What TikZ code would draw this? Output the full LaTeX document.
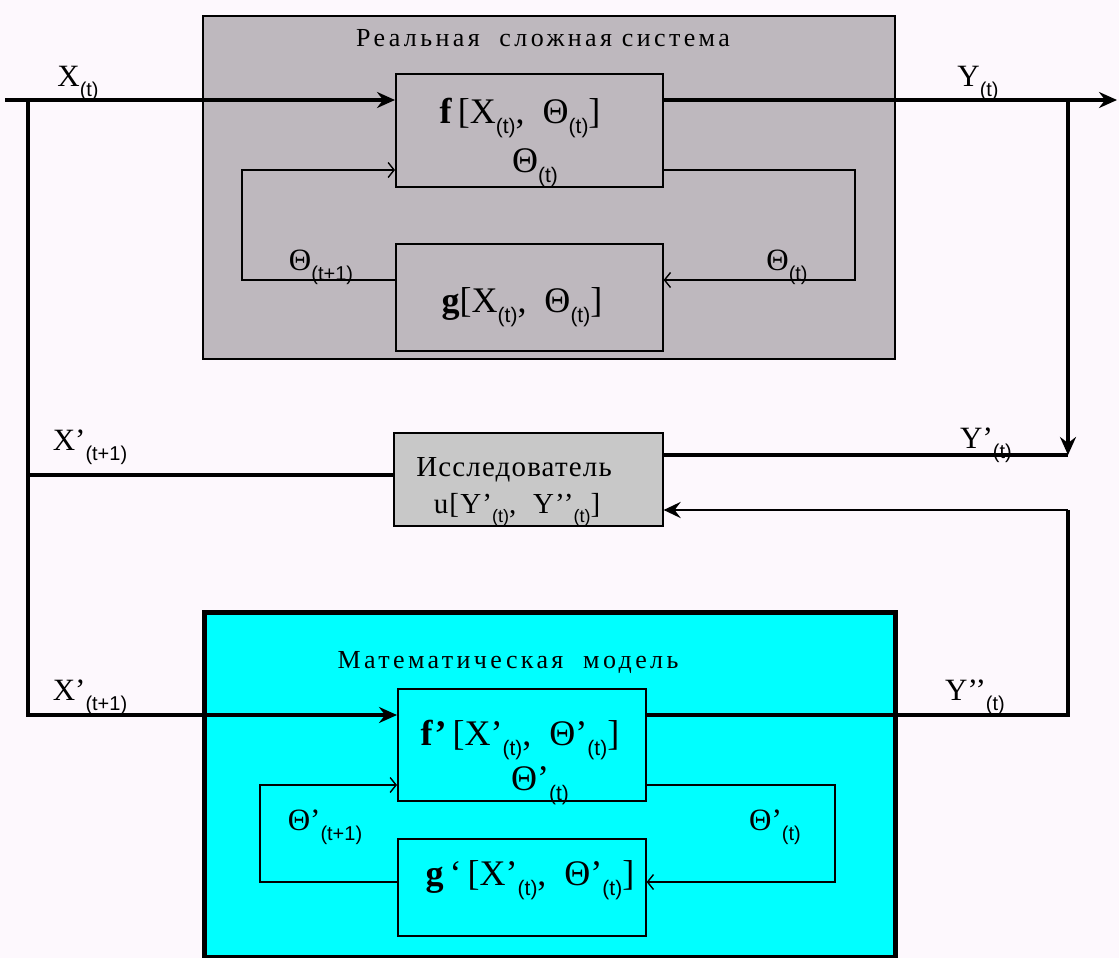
\documentclass[tikz,border=0pt]{standalone}
\usepackage{fontspec}
\setmainfont{Liberation Serif}
\setsansfont{Liberation Sans}
\newfontfamily\spacedfont[LetterSpace=13]{Liberation Serif}
\newfontfamily\resfont[LetterSpace=4]{Liberation Serif}
\usetikzlibrary{arrows.meta}
\definecolor{bgcol}{RGB}{253,248,253}
\definecolor{sysgray}{RGB}{190,184,190}
\definecolor{resgray}{RGB}{200,200,200}
\definecolor{modcyan}{RGB}{0,255,255}
% subscript: optional size (pt), lowered
\newcommand{\subt}[2][20]{\raisebox{-0.5\dimexpr#1pt\relax}{\sffamily\fontsize{#1}{#1}\selectfont #2}}
\tikzset{
  box/.style={draw=black, line width=1.6pt, anchor=north west, inner sep=0pt},
  mainline/.style={line width=3.4pt},
  mainarrow/.style={line width=3.4pt, -{Stealth[length=18pt,width=16pt,inset=6pt]}},
  thinline/.style={line width=3.2pt},
  thinarrow/.style={line width=2.8pt, -{Stealth[length=17pt,width=16pt,inset=6pt]}},
  loopline/.style={line width=1.4pt, -{Straight Barb[length=6pt,width=15pt]}},
  boxtext/.style={inner sep=0pt, anchor=base, font=\fontsize{36}{38}\selectfont},
  lbl/.style={inner sep=0pt, anchor=base, font=\fontsize{31}{33}\selectfont},
  titletext/.style={inner sep=0pt, anchor=base, font=\fontsize{26}{28}\selectfont\spacedfont},
  restext/.style={inner sep=0pt, anchor=base, font=\fontsize{29}{31}\selectfont\resfont}
}
\begin{document}
\begin{tikzpicture}[x=1pt,y=-1pt]
\fill[bgcol] (0,0) rectangle (1119,958);
\useasboundingbox (0,0) rectangle (1119,958);

% real system
\node[box, fill=sysgray, minimum width=692pt, minimum height=343pt] (sys) at (202,15) {};
\node[titletext] (systitle) at (543,47) {Реальная\ \ сложная система};
\node[box, fill=sysgray, minimum width=267pt, minimum height=113pt] (fbox) at (395,73) {};
\node[box, fill=sysgray, minimum width=267pt, minimum height=107pt] (gbox) at (395,243) {};
\node[boxtext] (ftext) at (520,123) {\textbf{f}\,[X\subt[21]{(t)},\ \ Θ\subt[21]{(t)}]};
\node[boxtext] (fth) at (535,172) {Θ\subt[21]{(t)}};
\node[boxtext] (gtext) at (522,312) {\textbf{g}[X\subt[21]{(t)},\ \ Θ\subt[21]{(t)}]};
\node[lbl] (lth1) at (321,270) {Θ\subt[20]{(t+1)}};
\node[lbl] (lth2) at (787,270) {Θ\subt[20]{(t)}};

% researcher
\node[box, fill=resgray, minimum width=269pt, minimum height=93pt] (rbox) at (393,432) {};
\node[restext] (rtext1) at (514,476) {Исследователь};
\node[restext] (rtext2) at (517,513) {u[Y’\subt[18]{(t)},\ \ Y’’\subt[18]{(t)}]};

% model
\node[box, fill=modcyan, line width=5pt, minimum width=691pt, minimum height=345pt] (mod) at (202,610) {};
\node[titletext] (modtitle) at (508,668) {Математическая\ \ модель};
\node[box, fill=modcyan, minimum width=248pt, minimum height=112pt] (fpbox) at (397,688) {};
\node[box, fill=modcyan, minimum width=248pt, minimum height=97pt] (gpbox) at (397,838) {};
\node[boxtext] (fptext) at (520,745) {\textbf{f’}\,[X’\subt[21]{(t)},\ \ Θ’\subt[21]{(t)}]};
\node[boxtext] (fpth) at (540,790) {Θ’\subt[21]{(t)}};
\node[boxtext] (gptext) at (530,885) {\textbf{g}\,‘\,[X’\subt[21]{(t)},\ \ Θ’\subt[21]{(t)}]};
\node[lbl] (lpth1) at (325,830) {Θ’\subt[20]{(t+1)}};
\node[lbl] (lpth2) at (775,830) {Θ’\subt[20]{(t)}};

% outer labels
\node[lbl] (lx) at (78,86) {X\subt[20]{(t)}};
\node[lbl] (ly) at (978,86) {Y\subt[20]{(t)}};
\node[lbl] (lxp1) at (90,450) {X’\subt[20]{(t+1)}};
\node[lbl] (lyp) at (986,448) {Y’\subt[20]{(t)}};
\node[lbl] (lxp2) at (90,700) {X’\subt[20]{(t+1)}};
\node[lbl] (lypp) at (975,700) {Y’’\subt[20]{(t)}};

% coordinates
\coordinate (xin) at (5,100);
\coordinate (xsplit) at (28,100);
\coordinate (xmid) at (28,475);
\coordinate (xbot) at (28,715);
\coordinate (modin) at (202,715);
\coordinate (yout) at (1117,100);
\coordinate (ysplit) at (1068,100);
\coordinate (ydown) at (1068,455);
\coordinate (yup) at (1068,510);
\coordinate (ybot) at (1068,715);
\coordinate (modout) at (893,715);
\coordinate (fr) at (855,170);
\coordinate (gr) at (855,280);
\coordinate (gl) at (242,280);
\coordinate (fl) at (242,170);
\coordinate (fpr) at (835,785);
\coordinate (gpr) at (835,882);
\coordinate (gpl) at (260,882);
\coordinate (fpl) at (260,785);

% main flow
\draw[mainarrow] (xin) -- (xin -| fbox.west);
\draw[mainarrow] (fbox.east |- yout) -- (yout);
\draw[mainarrow] (ysplit) -- (ydown);
\draw[mainline] (rbox.east |- ydown) -- (ydown);
\draw[mainline] (rbox.west |- xmid) -- (xmid);
\draw[mainline] (xsplit) -- (xmid);
\draw[thinline] (xmid) -- (xbot) -- (modin);
\draw[mainarrow] (modin) -- (modin -| fpbox.west);
\draw[mainline] (fpbox.east |- modout) -- (modout);
\draw[thinline] (modout) -- (ybot) -- (yup);
\draw[thinarrow] (yup) -- (yup -| rbox.east);

% loops
\draw[loopline] (fbox.east |- fr) -- (fr) -- (gr) -- (gr -| gbox.east);
\draw[loopline] (gbox.west |- gl) -- (gl) -- (fl) -- (fl -| fbox.west);
\draw[loopline] (fpbox.east |- fpr) -- (fpr) -- (gpr) -- (gpr -| gpbox.east);
\draw[loopline] (gpbox.west |- gpl) -- (gpl) -- (fpl) -- (fpl -| fpbox.west);
\end{tikzpicture}
\end{document}
